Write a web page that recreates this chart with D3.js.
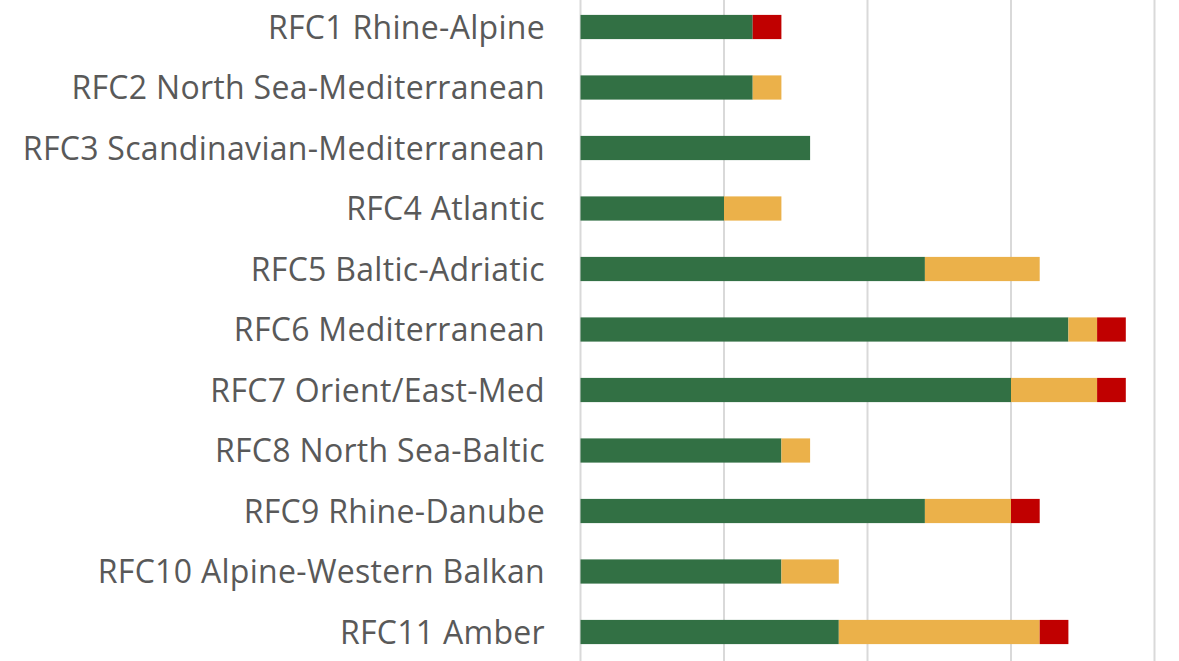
<!DOCTYPE html>
<html>
<head>
<meta charset="utf-8">
<script src="https://cdn.jsdelivr.net/npm/d3@7"></script>
<style>
  body { margin: 0; background: #fff; }
  svg { display: block; }
</style>
</head>
<body>
<svg id="chart"></svg>
<script>
const corridors = [
  "RFC1 Rhine-Alpine",
  "RFC2 North Sea-Mediterranean",
  "RFC3 Scandinavian-Mediterranean",
  "RFC4 Atlantic",
  "RFC5 Baltic-Adriatic",
  "RFC6 Mediterranean",
  "RFC7 Orient/East-Med",
  "RFC8 North Sea-Baltic",
  "RFC9 Rhine-Danube",
  "RFC10 Alpine-Western Balkan",
  "RFC11 Amber"
];
const greenValues = [6, 6, 8, 5, 12, 17, 15, 7, 12, 7, 9];
const amberValues = [0, 1, 0, 2, 4, 1, 3, 1, 3, 2, 7];
const redValues = [1, 0, 0, 0, 0, 1, 1, 0, 1, 0, 1];
const xTicks = [0, 5, 10, 15, 20];

const seriesKeys = ["green", "amber", "red"];
const seriesColors = ["#327044", "#EBB14A", "#C00000"];

const getConfig = () => {
  const dimensions = { width: 1179, height: 661 };
  const svg = d3.select("#chart")
    .attr("width", dimensions.width)
    .attr("height", dimensions.height);
  return { container: svg, dimensions };
};

const getScales = config => {
  const xScale = d3.scaleLinear()
    .domain([0, 20])
    .range([580.5, 1154.5]);

  const yScale = d3.scaleBand()
    .domain(corridors)
    .range([-3.25, 662.25])
    .paddingInner(0.6)
    .paddingOuter(0.3);

  const colorScale = d3.scaleOrdinal().domain(seriesKeys).range(seriesColors);
  return { xScale, yScale, colorScale };
};

const drawGrid = (config, scales) => {
  const { container, dimensions } = config;
  const { xScale } = scales;
  container.append("g")
    .selectAll("line")
    .data(xTicks)
    .join("line")
    .attr("x1", d => xScale(d))
    .attr("x2", d => xScale(d))
    .attr("y1", 0)
    .attr("y2", dimensions.height)
    .attr("stroke", "#D9D9D9")
    .attr("stroke-width", 2);
};

const drawBars = (config, scales) => {
  const { container } = config;
  const { xScale, yScale, colorScale } = scales;
  const rows = corridors.map((name, i) => ({
    name,
    green: greenValues[i],
    amber: amberValues[i],
    red: redValues[i]
  }));
  const stacked = d3.stack().keys(seriesKeys)(rows);

  container.append("g")
    .selectAll("g")
    .data(stacked)
    .join("g")
    .attr("fill", d => colorScale(d.key))
    .selectAll("rect")
    .data(d => d.filter(s => s[1] > s[0]))
    .join("rect")
    .attr("x", d => xScale(d[0]))
    .attr("width", d => xScale(d[1]) - xScale(d[0]))
    .attr("y", d => yScale(d.data.name))
    .attr("height", yScale.bandwidth());
};

const drawLabels = (config, scales) => {
  const { container } = config;
  const { yScale } = scales;
  container.append("g")
    .selectAll("text")
    .data(corridors)
    .join("text")
    .attr("x", 545)
    .attr("y", d => yScale(d) + yScale.bandwidth() / 2)
    .attr("dy", "0.36em")
    .attr("text-anchor", "end")
    .attr("fill", "#595959")
    .style("font-family", "'Open Sans', 'Noto Sans', sans-serif")
    .style("font-size", "32px")
    .style("letter-spacing", "0.3px")
    .text(d => d);
};

const config = getConfig();
const scales = getScales(config);
drawGrid(config, scales);
drawBars(config, scales);
drawLabels(config, scales);
</script>
</body>
</html>
